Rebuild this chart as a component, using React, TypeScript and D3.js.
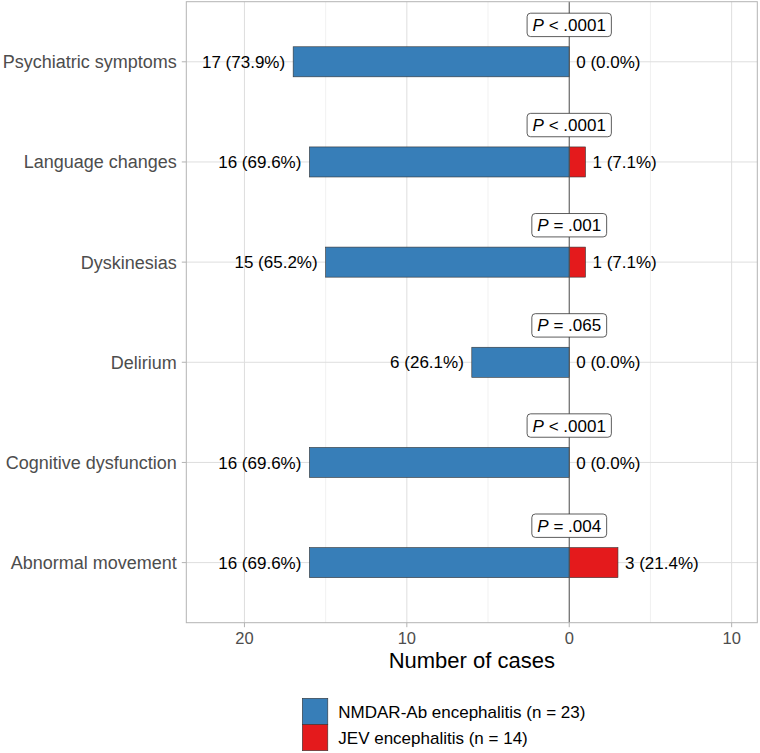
import React, { useEffect, useRef } from "react";
import * as d3 from "d3";

const categories = [
  "Psychiatric symptoms",
  "Language changes",
  "Dyskinesias",
  "Delirium",
  "Cognitive dysfunction",
  "Abnormal movement",
];
const nmdarCounts = [17, 16, 15, 6, 16, 16];
const nmdarPct = ["73.9", "69.6", "65.2", "26.1", "69.6", "69.6"];
const jevCounts = [0, 1, 1, 0, 0, 3];
const jevPct = ["0.0", "7.1", "7.1", "0.0", "0.0", "21.4"];
const pOps = ["<", "<", "=", "=", "<", "="];
const pVals = [".0001", ".0001", ".001", ".065", ".0001", ".004"];
const xTicks = [-20, -10, 0, 10];
const xMinor = [-15, -5, 5];
const legendLabels = ["NMDAR-Ab encephalitis (n = 23)", "JEV encephalitis (n = 14)"];
const colors = ["#377EB8", "#E41A1C"];

const W = 760;
const H = 753;
const FONT = "'Liberation Sans', Arial, Helvetica, sans-serif";

export default function App() {
  const ref = useRef<SVGSVGElement | null>(null);

  useEffect(() => {
    const svg = d3.select(ref.current);
    svg.selectAll("*").remove();

    const left = 186.3, right = 757.3, top = 1.7, bottom = 622.7;
    const x = d3.scaleLinear().domain([-23.58, 11.58]).range([left, right]);
    const y = d3.scalePoint<string>().domain(categories).range([top, bottom]).padding(0.6);
    const barH = y.step() * 0.3;

    const g = svg.append("g").attr("font-family", FONT);

    // panel background
    g.append("rect").attr("x", left).attr("y", top).attr("width", right - left).attr("height", bottom - top).attr("fill", "white");

    // minor grid
    g.selectAll(".minor").data(xMinor).enter().append("line")
      .attr("x1", (d) => x(d)).attr("x2", (d) => x(d)).attr("y1", top).attr("y2", bottom)
      .attr("stroke", "#ededed").attr("stroke-width", 0.8);
    // major grid vertical
    g.selectAll(".majorx").data(xTicks).enter().append("line")
      .attr("x1", (d) => x(d)).attr("x2", (d) => x(d)).attr("y1", top).attr("y2", bottom)
      .attr("stroke", "#dedede").attr("stroke-width", 1);
    // major grid horizontal
    g.selectAll(".majory").data(categories).enter().append("line")
      .attr("x1", left).attr("x2", right).attr("y1", (d) => y(d)!).attr("y2", (d) => y(d)!)
      .attr("stroke", "#dedede").attr("stroke-width", 1);

    // bars
    categories.forEach((c, i) => {
      const cy = y(c)!;
      g.append("rect")
        .attr("x", x(-nmdarCounts[i])).attr("y", cy - barH / 2)
        .attr("width", x(0) - x(-nmdarCounts[i])).attr("height", barH)
        .attr("fill", colors[0]).attr("stroke", "#333").attr("stroke-width", 0.6);
      if (jevCounts[i] > 0) {
        g.append("rect")
          .attr("x", x(0)).attr("y", cy - barH / 2)
          .attr("width", x(jevCounts[i]) - x(0)).attr("height", barH)
          .attr("fill", colors[1]).attr("stroke", "#333").attr("stroke-width", 0.6);
      }
    });

    // zero line
    g.append("line").attr("x1", x(0)).attr("x2", x(0)).attr("y1", top).attr("y2", bottom)
      .attr("stroke", "#555").attr("stroke-width", 1);

    // value labels
    categories.forEach((c, i) => {
      const cy = y(c)!;
      g.append("text").attr("x", x(-nmdarCounts[i]) - 8).attr("y", cy).attr("dy", "0.36em")
        .attr("text-anchor", "end").attr("font-size", 17).attr("fill", "#000")
        .text(`${nmdarCounts[i]} (${nmdarPct[i]}%)`);
      g.append("text").attr("x", x(jevCounts[i]) + 7).attr("y", cy).attr("dy", "0.36em")
        .attr("text-anchor", "start").attr("font-size", 17).attr("fill", "#000")
        .text(`${jevCounts[i]} (${jevPct[i]}%)`);
    });

    // P labels
    categories.forEach((c, i) => {
      const cy = y(c)! - 36.9;
      const lg = g.append("g");
      const rect = lg.append("rect");
      const t = lg.append("text").attr("x", x(0)).attr("y", cy + 6.1)
        .attr("text-anchor", "middle").attr("font-size", 17).attr("fill", "#000");
      t.append("tspan").attr("font-style", "italic").text("P");
      t.append("tspan").text(` ${pOps[i]} ${pVals[i]}`);
      const bb = (t.node() as SVGTextElement).getBBox();
      const padX = 5.5;
      const bh = 23.4;
      rect.attr("x", bb.x - padX).attr("y", cy - bh / 2).attr("width", bb.width + 2 * padX).attr("height", bh)
        .attr("rx", 3.5).attr("ry", 3.5).attr("fill", "white").attr("stroke", "#333").attr("stroke-width", 0.8);
    });

    // panel border
    g.append("rect").attr("x", left).attr("y", top).attr("width", right - left).attr("height", bottom - top)
      .attr("fill", "none").attr("stroke", "#b3b3b3").attr("stroke-width", 1);

    // y axis ticks and labels
    categories.forEach((c) => {
      const cy = y(c)!;
      g.append("line").attr("x1", left - 4.5).attr("x2", left).attr("y1", cy).attr("y2", cy)
        .attr("stroke", "#b3b3b3").attr("stroke-width", 1);
      g.append("text").attr("x", left - 9.5).attr("y", cy).attr("dy", "0.36em")
        .attr("text-anchor", "end").attr("font-size", 18).attr("fill", "#4d4d4d").text(c);
    });

    // x axis ticks and labels
    xTicks.forEach((v) => {
      g.append("line").attr("x1", x(v)).attr("x2", x(v)).attr("y1", bottom).attr("y2", bottom + 4.5)
        .attr("stroke", "#b3b3b3").attr("stroke-width", 1);
      g.append("text").attr("x", x(v)).attr("y", 643.5).attr("text-anchor", "middle")
        .attr("font-size", 16.5).attr("fill", "#4d4d4d").text(String(Math.abs(v)));
    });

    g.append("text").attr("x", (left + right) / 2).attr("y", 668).attr("text-anchor", "middle")
      .attr("font-size", 22).attr("fill", "#000").text("Number of cases");

    // legend
    const kx = 302.3, ky = 698.3, kw = 25.5, kh = 26.2;
    legendLabels.forEach((lab, i) => {
      g.append("rect").attr("x", kx).attr("y", ky + i * kh).attr("width", kw).attr("height", kh)
        .attr("fill", colors[i]).attr("stroke", "#333").attr("stroke-width", 0.6);
      g.append("text").attr("x", 338.3).attr("y", ky + i * kh + kh / 2).attr("dy", "0.36em")
        .attr("font-size", 17).attr("fill", "#000").text(lab);
    });
  }, []);

  return (
    <svg
      ref={ref}
      width={W}
      height={H}
      style={{ position: "absolute", left: 0, top: 0, background: "white" }}
    />
  );
}
